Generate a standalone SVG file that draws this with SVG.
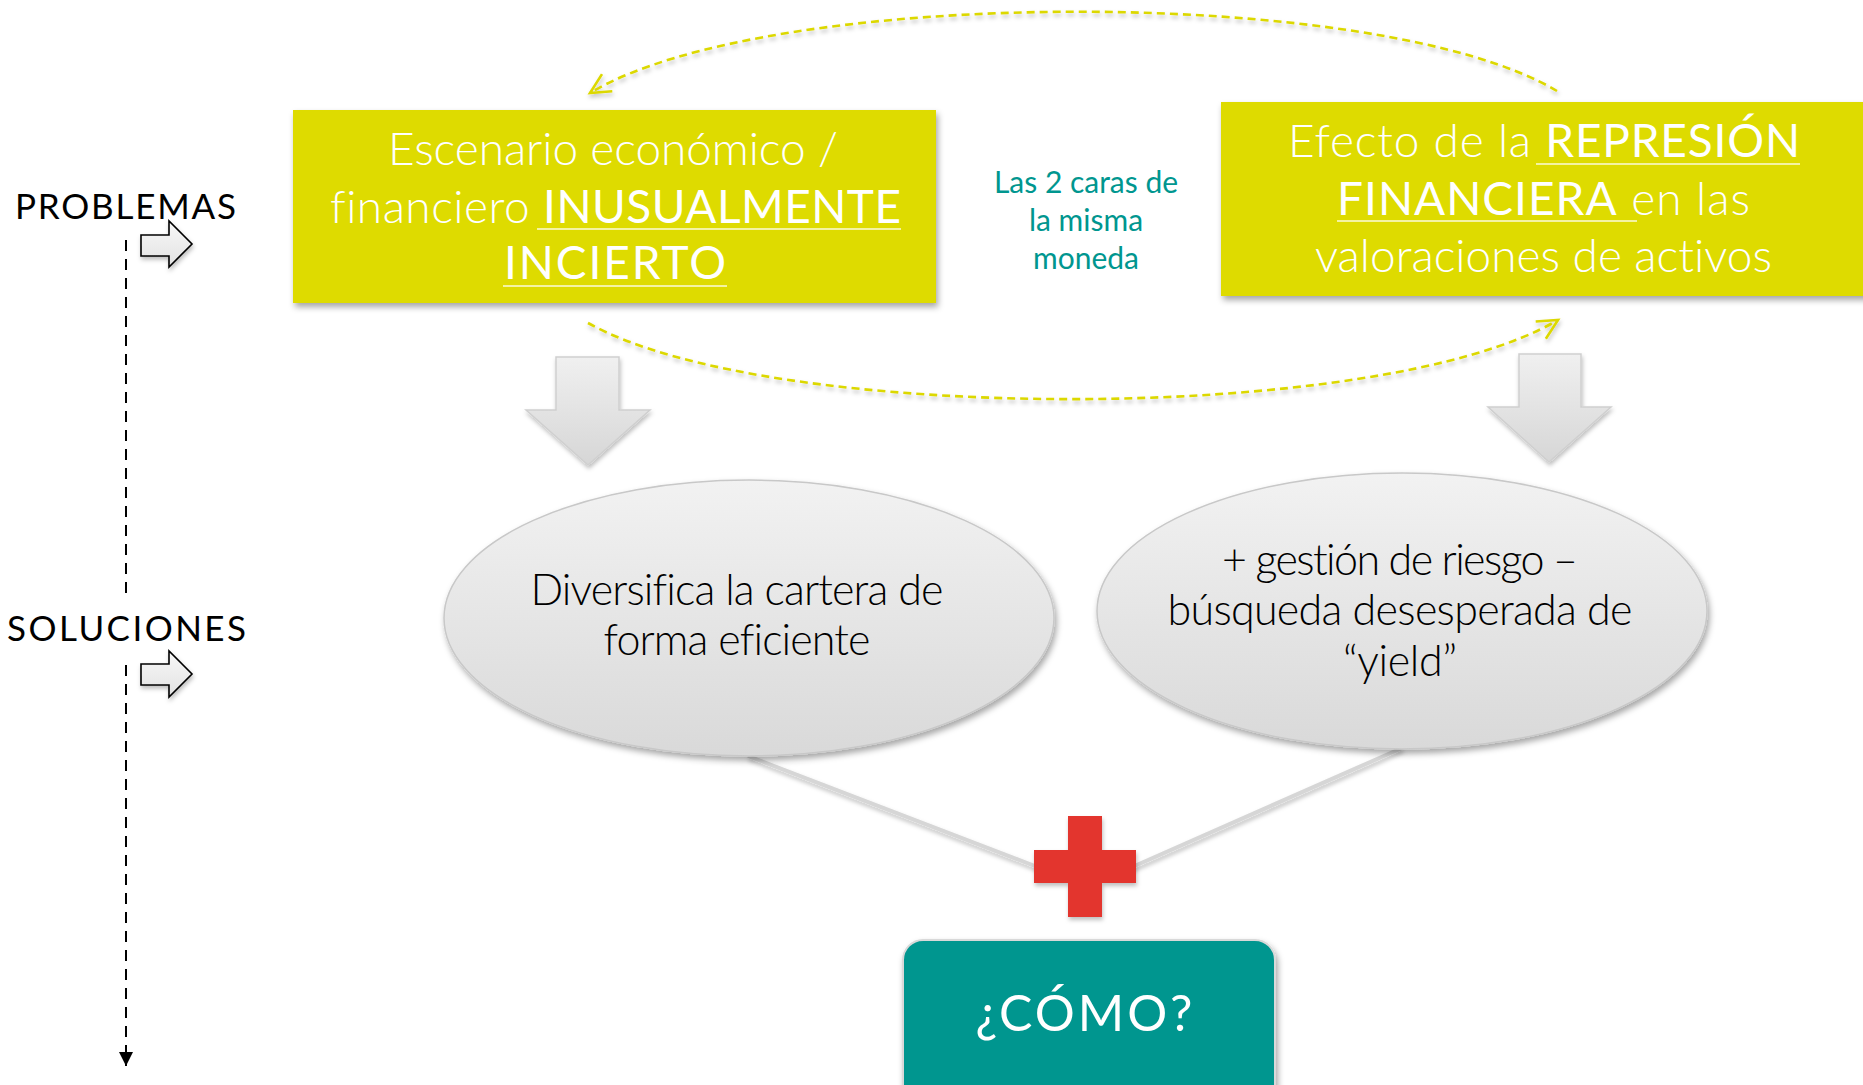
<svg xmlns="http://www.w3.org/2000/svg" width="1863" height="1085" viewBox="0 0 1863 1085">
  <style>
    text { font-variant-ligatures: none; }
    .side { font-family: Lato, "Liberation Sans", sans-serif; font-size: 35px; fill: #000; }
    .ybox { fill: #dedb00; }
    .ytxt { font-family: Lato, "Liberation Sans", sans-serif; font-size: 46px; fill: #fff; font-weight: 300; }
    .caps { font-weight: 400; }
    .uline { stroke: #fbfbd8; stroke-width: 1.5; }
    .mid { font-family: Lato, "Liberation Sans", sans-serif; font-size: 30px; fill: #00968f; text-anchor: middle; }
    .etxt { font-family: Lato, "Liberation Sans", sans-serif; font-size: 43px; fill: #000; text-anchor: middle; font-weight: 300; }
    .ell { fill: url(#gEll); stroke: #c8c8c8; stroke-width: 1.5; }
    .darrow { fill: url(#gArr); stroke: #cfcfcf; stroke-width: 1.5; }
    .sarrow { fill: url(#gSmall); stroke: #000; stroke-width: 1.6; }
    .curve { fill: none; stroke: #dcd800; stroke-width: 2.6; stroke-dasharray: 8 5; }
    .gline { stroke: #d6d6d6; stroke-width: 4; fill: none; }
    .vdash { stroke: #000; stroke-width: 2; stroke-dasharray: 11 8; fill: none; }
  </style>
  <defs>
    <linearGradient id="gEll" x1="0" y1="0" x2="0" y2="1">
      <stop offset="0" stop-color="#f2f2f2"/>
      <stop offset="1" stop-color="#d9d9d9"/>
    </linearGradient>
    <linearGradient id="gArr" x1="0" y1="0" x2="0" y2="1">
      <stop offset="0" stop-color="#f0f0f0"/>
      <stop offset="1" stop-color="#d6d6d6"/>
    </linearGradient>
    <linearGradient id="gSmall" x1="0" y1="0" x2="0" y2="1">
      <stop offset="0" stop-color="#f8f8f8"/>
      <stop offset="1" stop-color="#e2e2e2"/>
    </linearGradient>
    <filter id="sh" x="-10%" y="-10%" width="130%" height="140%">
      <feDropShadow dx="2" dy="4" stdDeviation="3" flood-color="#000" flood-opacity="0.35"/>
    </filter>
    <filter id="shs" x="-10%" y="-20%" width="130%" height="160%">
      <feDropShadow dx="1" dy="3" stdDeviation="2" flood-color="#000" flood-opacity="0.25"/>
    </filter>
    <marker id="chev" viewBox="0 0 10 10" refX="10" refY="5" markerWidth="20" markerHeight="20" markerUnits="userSpaceOnUse" orient="auto" overflow="visible">
      <path d="M0,0 L10,5 L0,10" fill="none" stroke="#dcd800" stroke-width="1.3" stroke-dasharray="none"/>
    </marker>
    <marker id="tri" viewBox="0 0 10 10" refX="10" refY="5" markerWidth="15" markerHeight="14" markerUnits="userSpaceOnUse" orient="auto">
      <path d="M0,0 L10,5 L0,10 Z" fill="#000"/>
    </marker>
  </defs>

  <rect width="1863" height="1085" fill="#fff"/>

  <g id="axis">
    <text class="side" x="15" y="219" textLength="221">PROBLEMAS</text>
    <text class="side" x="7" y="641" textLength="239">SOLUCIONES</text>
    <path class="vdash" d="M126,240 V594"/>
    <path class="vdash" d="M126,665 V1066" marker-end="url(#tri)"/>
    <path class="sarrow" filter="url(#shs)" d="M141,235 H169 V221 L192,244 L169,267 V256 H141 Z"/>
    <path class="sarrow" filter="url(#shs)" d="M141,664 H169 V651 L192,674 L169,697 V685 H141 Z"/>
  </g>

  <g id="connectors">
    <path class="curve" filter="url(#shs)" d="M1557,91 C1380,-15 770,-15 590,93" marker-end="url(#chev)"/>
    <path class="curve" filter="url(#shs)" d="M588,323 C770,425 1380,425 1558,320" marker-end="url(#chev)"/>
    <path class="darrow" filter="url(#shs)" d="M556,357 H619 V410 H650 L588,465 L526,410 H556 Z"/>
    <path class="darrow" filter="url(#shs)" d="M1519,354 H1581 V407 H1611 L1549,462 L1488,407 H1519 Z"/>
    <path class="gline" filter="url(#shs)" d="M748,756 L1040,868"/>
    <path class="gline" filter="url(#shs)" d="M1402,748 L1130,868"/>
  </g>

  <g id="node-escenario">
    <rect class="ybox" filter="url(#sh)" x="293" y="110" width="643" height="193"/>
    <text class="ytxt" x="388" y="165" textLength="450">Escenario económico /</text>
    <text class="ytxt" x="330" y="223" textLength="571">financiero <tspan class="caps">INUSUALMENTE</tspan></text>
    <text class="ytxt caps" x="504" y="279" textLength="222">INCIERTO</text>
    <line class="uline" x1="537" y1="229" x2="901" y2="229"/>
    <line class="uline" x1="503" y1="286" x2="727" y2="286"/>
  </g>

  <g id="node-represion">
    <rect class="ybox" filter="url(#sh)" x="1221" y="102" width="650" height="194"/>
    <text class="ytxt" x="1288" y="157" textLength="512">Efecto de la <tspan class="caps">REPRESIÓN</tspan></text>
    <text class="ytxt" x="1337" y="215" textLength="413"><tspan class="caps">FINANCIERA</tspan> en las</text>
    <text class="ytxt" x="1315" y="272" textLength="457">valoraciones de activos</text>
    <line class="uline" x1="1536" y1="164" x2="1800" y2="164"/>
    <line class="uline" x1="1337" y1="221" x2="1637" y2="221"/>
  </g>

  <g id="label-caras">
    <text class="mid" x="1086" y="193">Las 2 caras de</text>
    <text class="mid" x="1086" y="231">la misma</text>
    <text class="mid" x="1086" y="269">moneda</text>
  </g>

  <g id="node-diversifica">
    <ellipse class="ell" filter="url(#sh)" cx="749" cy="618" rx="305" ry="138"/>
    <text class="etxt" x="737" y="605" textLength="413">Diversifica la cartera de</text>
    <text class="etxt" x="737" y="655" textLength="267">forma eficiente</text>
  </g>

  <g id="node-gestion">
    <ellipse class="ell" filter="url(#sh)" cx="1402" cy="611" rx="305" ry="138"/>
    <text class="etxt" x="1400" y="575" textLength="356">+ gestión de riesgo –</text>
    <text class="etxt" x="1400" y="625" textLength="465">búsqueda desesperada de</text>
    <text class="etxt" x="1400" y="676" textLength="114">“yield”</text>
  </g>

  <g id="node-plus">
    <path filter="url(#shs)" fill="#e3342f" d="M1068,816 H1102 V850 H1136 V883 H1102 V917 H1068 V883 H1034 V850 H1068 Z"/>
  </g>

  <g id="node-como">
    <rect filter="url(#sh)" x="903" y="940" width="372" height="170" rx="20" fill="#00968f" stroke="#d9d9d9" stroke-width="2"/>
    <text x="1084" y="1031" font-family="Lato, 'Liberation Sans', sans-serif" font-size="50" fill="#fff" text-anchor="middle" textLength="217">¿CÓMO?</text>
  </g>
</svg>
